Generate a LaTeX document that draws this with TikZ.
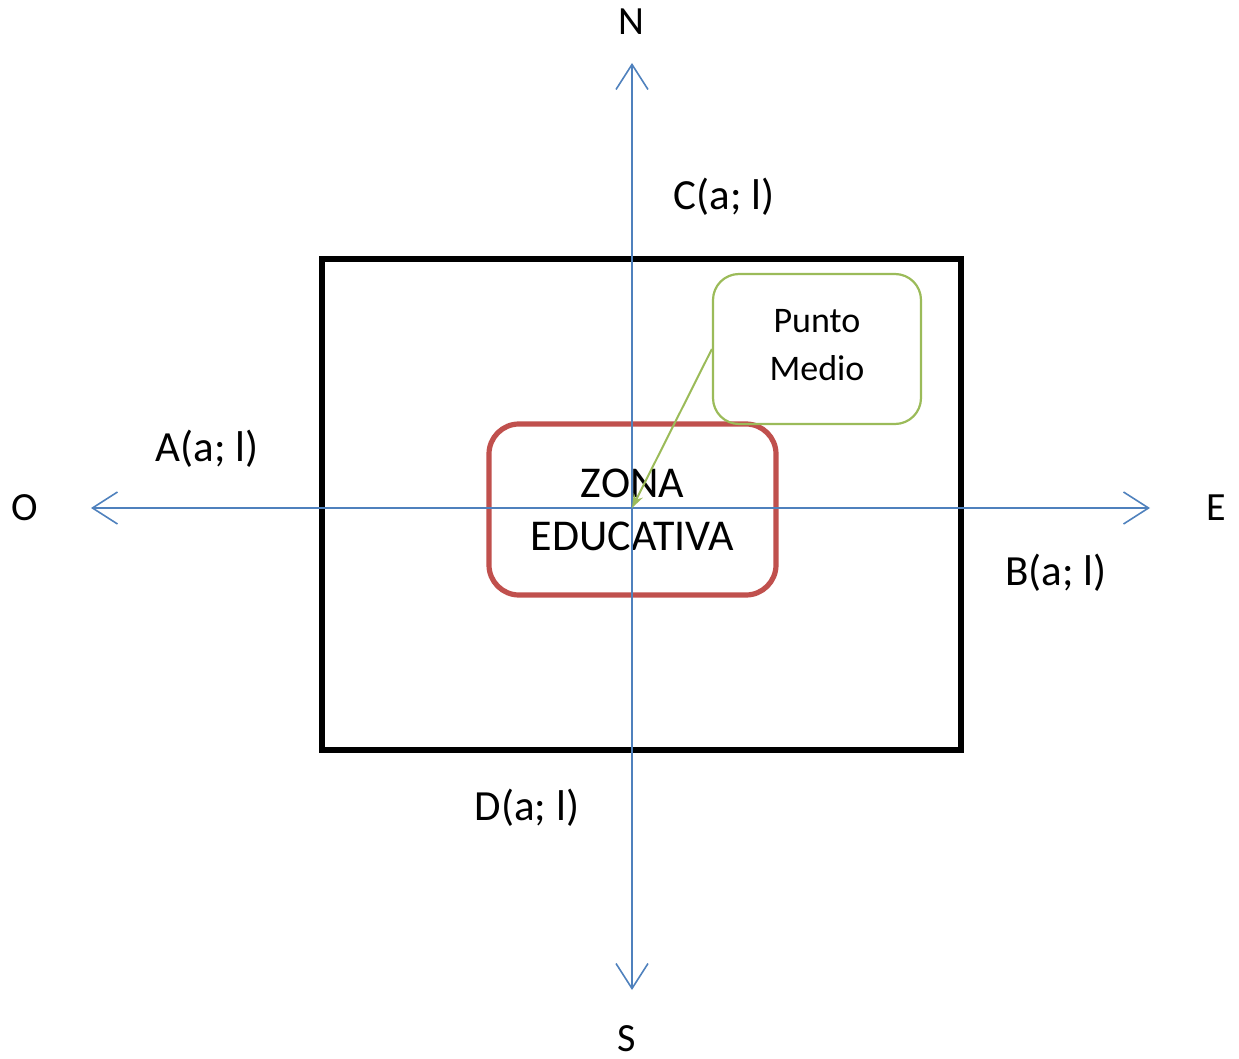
\documentclass[tikz,border=0pt]{standalone}
\usepackage{fontspec}
\setmainfont{Carlito}
\usetikzlibrary{arrows.meta}

\definecolor{axisblue}{RGB}{79,129,189}
\definecolor{zonared}{RGB}{192,80,77}
\definecolor{notegreen}{RGB}{155,187,89}

\tikzset{every picture/.style={line width=0.75pt}}
\tikzset{
  axis/.style={color=axisblue, line width=1pt, -{Straight Barb[length=12.5pt,width=16pt,line width=0.8pt]}},
  lbl/.style={inner sep=0.75pt, font=\fontsize{20}{23}\selectfont},
  cornerlbl/.style={lbl, font=\fontsize{21.5}{25}\selectfont},
  zonebox/.style={draw=zonared, line width=2.6pt, rounded corners=15pt, minimum width=143.5pt, minimum height=85.5pt, inner sep=0pt, align=center, font=\fontsize{22}{26.5}\selectfont},
  notebox/.style={draw=notegreen, line width=1.1pt, rounded corners=13pt, minimum width=104pt, minimum height=75pt, inner sep=0pt, align=center, font=\fontsize{18}{24}\selectfont},
  pointer/.style={color=notegreen, line width=1pt, -{Stealth[length=7pt,width=5pt]}}
}

\begin{document}
\begin{tikzpicture}[x=0.5pt,y=0.5pt,yscale=-1,xscale=1]
\useasboundingbox (0,0) rectangle (1239,1059);

% Axis ends
\coordinate (origin) at (632,508);
\coordinate (north) at (632,63);
\coordinate (south) at (632,990);
\coordinate (west) at (91,508);
\coordinate (east) at (1150,508);

% Outer block
\draw [line width=2.6pt] (322,259) rectangle (961,750);

% Educational zone
\node [zonebox] (zona) at (632.5,509.5) {ZONA\\EDUCATIVA};

% Midpoint note
\node [notebox] (medio) at (817,349) {Punto\\Medio\rule[-4pt]{0pt}{0pt}};

% Axes
\draw [axis] (origin) -- (north);
\draw [axis] (origin) -- (south);
\draw [axis] (origin) -- (west);
\draw [axis] (origin) -- (east);

% Note pointer
\draw [pointer] (medio.west) -- (origin);

% Cardinal points
\node [lbl] (lblN) at (631,22) {N};
\node [lbl] (lblS) at (627,1039) {S};
\node [lbl] (lblO) at (25,508) {O};
\node [lbl] (lblE) at (1216,508) {E};

% Corner labels
\node [cornerlbl] (lblC) at (724,197) {C(a; l)};
\node [cornerlbl] (lblA) at (207,449) {A(a; l)};
\node [cornerlbl] (lblB) at (1056,573) {B(a; l)};
\node [cornerlbl] (lblD) at (527,808) {D(a; l)};

\end{tikzpicture}
\end{document}
